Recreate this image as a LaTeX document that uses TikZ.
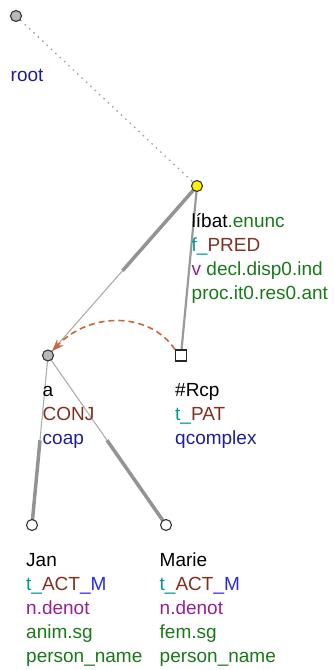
\documentclass[tikz,border=0pt]{standalone}
\usepackage{fontspec}
\setmainfont{Liberation Sans}
\usetikzlibrary{calc, arrows.meta, backgrounds}
\definecolor{tealc}{RGB}{0,150,150}
\definecolor{brownc}{RGB}{128,48,32}
\definecolor{bluec}{RGB}{40,40,235}
\definecolor{navyc}{RGB}{30,30,150}
\definecolor{purplec}{RGB}{150,30,150}
\definecolor{greenc}{RGB}{25,120,25}
\definecolor{corefc}{RGB}{205,100,60}

\begin{document}
\begin{tikzpicture}[x=1pt, y=-1pt,
        tnode/.style={circle, draw=black!80, line width=1.1pt, inner sep=0, minimum size=11pt},
        rnode/.style={rectangle, draw=black!85, line width=1.1pt, fill=white, inner sep=0, minimum size=11pt},
        lbl/.style={anchor=base west, align=left, inner sep=0, font=\fontsize{19}{24}\selectfont},
        thickedge/.style={gray!85, line width=3.5pt},
        thinedge/.style={gray!65, line width=1.1pt}]
        \useasboundingbox (0,0) rectangle (333,670);
        % tree nodes
        \node[tnode, fill=gray!55] (root) at (16,16) {};
        \node[tnode, fill=yellow] (libat) at (197,186) {};
        \node[tnode, fill=gray!55] (a) at (48,355.5) {};
        \node[rnode] (rcp) at (181,355.5) {};
        \node[tnode, fill=white] (jan) at (32,525) {};
        \node[tnode, fill=white] (marie) at (166,525) {};
        % labels (placed at the baseline of the last line)
        \node[lbl, navyc] (root-l) at (10.5,81) {root};
        \node[lbl] (libat-l) at (191.5,299.5) {líbat\textcolor{greenc}{.enunc}\\
                \textcolor{tealc}{f\_}\textcolor{brownc}{PRED}\\
                \textcolor{purplec}{v} \textcolor{greenc}{decl.disp0.ind}\\
                \textcolor{greenc}{proc.it0.res0.ant}};
        \node[lbl] (a-l) at (42.5,444.5) {a\\ \textcolor{brownc}{CONJ}\\ \textcolor{navyc}{coap}};
        \node[lbl] (rcp-l) at (175,444.5) {\#Rcp\\ \textcolor{tealc}{t\_}\textcolor{brownc}{PAT}\\ \textcolor{navyc}{qcomplex}};
        \node[lbl] (jan-l) at (26,662.5) {Jan\\
                \textcolor{tealc}{t\_}\textcolor{brownc}{ACT}\textcolor{bluec}{\_M}\\
                \textcolor{purplec}{n.denot}\\
                \textcolor{greenc}{anim.sg}\\
                \textcolor{greenc}{person\_name}};
        \node[lbl] (marie-l) at (159.5,662.5) {Marie\\
                \textcolor{tealc}{t\_}\textcolor{brownc}{ACT}\textcolor{bluec}{\_M}\\
                \textcolor{purplec}{n.denot}\\
                \textcolor{greenc}{fem.sg}\\
                \textcolor{greenc}{person\_name}};
        % edges
        \begin{scope}[on background layer]
        \draw[gray!75, line width=1.3pt, dash pattern=on 1.5pt off 4.5pt] (root.center) -- (libat.center);
        \draw[thickedge] (libat.center) -- ($(libat)!.5!(a)$);
        \draw[thinedge] ($(libat)!.5!(a)$) -- (a.center);
        \draw[gray!80, line width=2.2pt] (libat.center) -- (rcp.center);
        \draw[thinedge] (a.center) -- ($(a)!.5!(jan)$);
        \draw[thickedge] ($(a)!.5!(jan)$) -- (jan.center);
        \draw[thinedge] (a.center) -- ($(a)!.5!(marie)$);
        \draw[thickedge] ($(a)!.5!(marie)$) -- (marie.center);
        \end{scope}
        % coreference
        \draw[corefc, line width=1.6pt, dash pattern=on 6pt off 4pt, -{Stealth[length=12pt, width=9pt]}]
                (rcp.north west) .. controls (150,312) and (90,311) .. (a);
\end{tikzpicture}
\end{document}
